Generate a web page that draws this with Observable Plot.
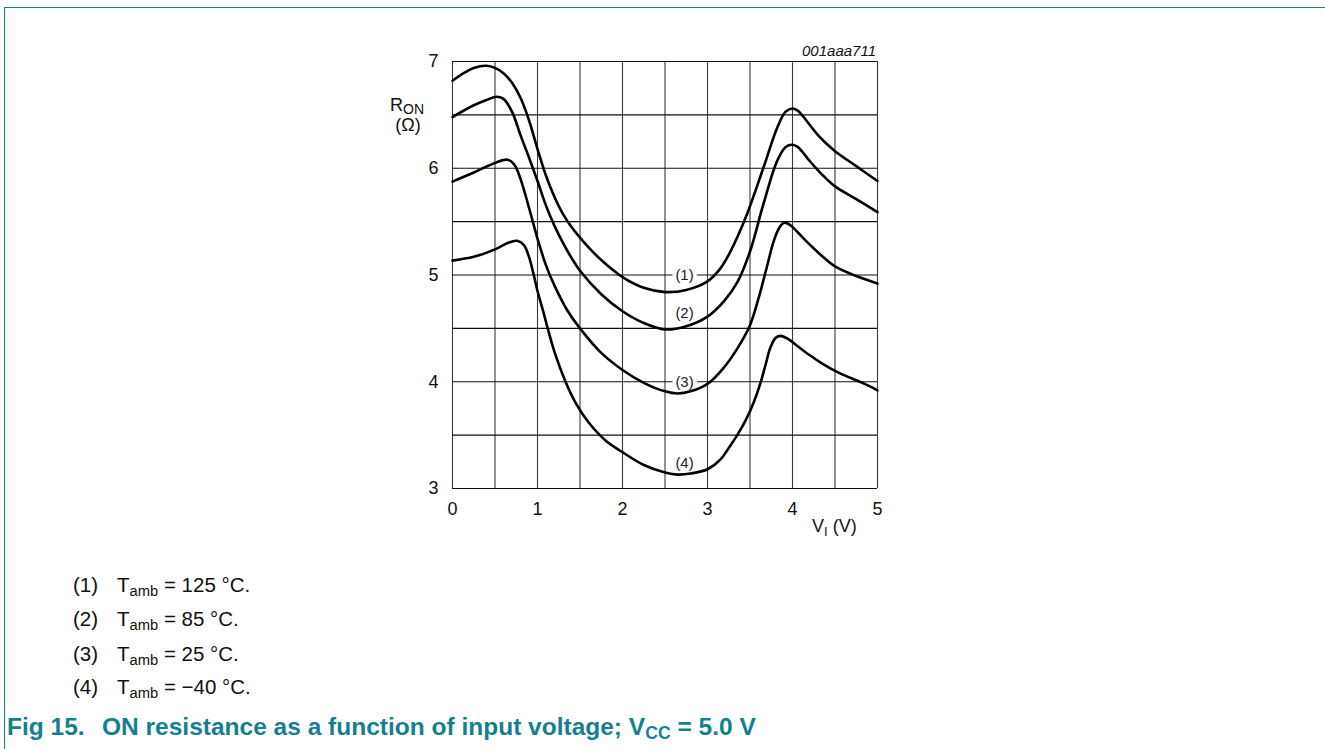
<!DOCTYPE html>
<html>
<head>
<meta charset="utf-8">
<script src="https://cdn.jsdelivr.net/npm/d3@7"></script>
<script src="https://cdn.jsdelivr.net/npm/@observablehq/plot@0.6"></script>
<style>
  html, body { margin: 0; padding: 0; background: #fff; }
  body { width: 1325px; height: 749px; position: relative; overflow: hidden;
         font-family: Arial, "Liberation Sans", sans-serif; }
  #frame { position: absolute; left: 4px; top: 7px; right: 0; bottom: 0;
           border-left: 1.5px solid #14808f; border-top: 1.5px solid #14808f; }
  #chart { position: absolute; left: 0; top: 0; }
  .note { position: absolute; font-size: 20.5px; line-height: 24px; color: #111; white-space: nowrap; }
  .note .num { position: absolute; left: 0; }
  .note .txt { position: absolute; left: 44px; }
  sub { font-size: 0.72em; vertical-align: -0.25em; line-height: 0; }
  #title { position: absolute; left: 7px; top: 713px; font-size: 24.5px; line-height: 28px; font-weight: bold;
           color: #14808f; white-space: nowrap; }
  #title .on { position: absolute; left: 95px; }
</style>
</head>
<body>
<div id="frame"></div>
<div id="chart"></div>
<div class="note" style="left:73px; top:573px;"><span class="num">(1)</span><span class="txt">T<sub>amb</sub> = 125 °C.</span></div>
<div class="note" style="left:73px; top:607px;"><span class="num">(2)</span><span class="txt">T<sub>amb</sub> = 85 °C.</span></div>
<div class="note" style="left:73px; top:642px;"><span class="num">(3)</span><span class="txt">T<sub>amb</sub> = 25 °C.</span></div>
<div class="note" style="left:73px; top:675px;"><span class="num">(4)</span><span class="txt">T<sub>amb</sub> = −40 °C.</span></div>
<div id="title"><span>Fig 15.</span><span class="on">ON resistance as a function of input voltage; V<sub>CC</sub> = 5.0 V</span></div>
<script>
// ---- data ----
const xTicks = [0, 1, 2, 3, 4, 5];
const yTicks = [3, 4, 5, 6, 7];
const xGrid = [0, 0.5, 1, 1.5, 2, 2.5, 3, 3.5, 4, 4.5, 5];
const yGrid = [3, 3.5, 4, 4.5, 5, 5.5, 6, 6.5, 7];

// (1) Tamb = 125 °C
const curve1V = [0, 0.15, 0.25, 0.4, 0.5, 0.6, 0.7, 0.8, 0.9, 1.0, 1.1, 1.2, 1.3, 1.4, 1.5, 1.6, 1.75, 2.0, 2.25, 2.5, 2.75, 3.0, 3.15, 3.27, 3.45, 3.66, 3.82, 3.92, 4.0, 4.06, 4.12, 4.2, 4.3, 4.4, 4.5, 4.75, 5.0];
const curve1R = [6.82, 6.9, 6.94, 6.96, 6.94, 6.89, 6.8, 6.66, 6.45, 6.18, 5.93, 5.73, 5.57, 5.45, 5.35, 5.26, 5.14, 4.98, 4.88, 4.84, 4.86, 4.94, 5.06, 5.22, 5.54, 6.01, 6.38, 6.53, 6.56, 6.54, 6.49, 6.41, 6.31, 6.23, 6.16, 6.02, 5.88];
// (2) Tamb = 85 °C
const curve2V = [0, 0.25, 0.4, 0.52, 0.6, 0.7, 0.8, 0.9, 1.0, 1.1, 1.2, 1.3, 1.4, 1.5, 1.75, 2.0, 2.25, 2.5, 2.75, 3.0, 3.2, 3.35, 3.5, 3.66, 3.82, 3.92, 4.0, 4.06, 4.12, 4.2, 4.3, 4.4, 4.5, 4.75, 5.0];
const curve2R = [6.48, 6.59, 6.64, 6.67, 6.65, 6.53, 6.31, 6.1, 5.88, 5.65, 5.46, 5.3, 5.16, 5.04, 4.82, 4.66, 4.55, 4.49, 4.52, 4.61, 4.76, 4.93, 5.22, 5.67, 6.07, 6.2, 6.22, 6.2, 6.15, 6.07, 5.98, 5.9, 5.83, 5.71, 5.59];
// (3) Tamb = 25 °C
const curve3V = [0, 0.25, 0.5, 0.65, 0.73, 0.8, 0.9, 1.0, 1.1, 1.2, 1.35, 1.5, 1.75, 2.0, 2.25, 2.5, 2.65, 2.8, 3.0, 3.2, 3.35, 3.5, 3.6, 3.7, 3.78, 3.85, 3.9, 3.97, 4.05, 4.17, 4.33, 4.5, 4.75, 5.0];
const curve3R = [5.875, 5.96, 6.05, 6.08, 6.03, 5.9, 5.63, 5.34, 5.09, 4.9, 4.67, 4.5, 4.27, 4.11, 3.99, 3.91, 3.89, 3.91, 3.98, 4.14, 4.31, 4.53, 4.78, 5.08, 5.32, 5.45, 5.49, 5.47, 5.41, 5.31, 5.19, 5.08, 4.99, 4.92];
// (4) Tamb = −40 °C
const curve4V = [0, 0.25, 0.5, 0.65, 0.76, 0.84, 0.9, 0.95, 1.0, 1.06, 1.12, 1.2, 1.33, 1.45, 1.6, 1.8, 2.0, 2.25, 2.5, 2.65, 2.8, 3.0, 3.15, 3.25, 3.35, 3.45, 3.55, 3.62, 3.68, 3.74, 3.8, 3.86, 3.95, 4.05, 4.2, 4.35, 4.53, 4.7, 4.85, 5.0];
const curve4R = [5.135, 5.17, 5.24, 5.3, 5.32, 5.28, 5.17, 5.02, 4.85, 4.68, 4.5, 4.28, 4.0, 3.8, 3.62, 3.45, 3.34, 3.22, 3.15, 3.13, 3.14, 3.18, 3.27, 3.38, 3.5, 3.64, 3.82, 3.98, 4.15, 4.32, 4.41, 4.43, 4.4, 4.34, 4.25, 4.17, 4.09, 4.03, 3.98, 3.92];

const labelText = ["(1)", "(2)", "(3)", "(4)"];
const labelV = [2.73, 2.73, 2.73, 2.73];
const labelR = [5.0, 4.64, 4.0, 3.24];

// ---- build tables ----
const series = [
  {name: "(1)", V: curve1V, R: curve1R},
  {name: "(2)", V: curve2V, R: curve2R},
  {name: "(3)", V: curve3V, R: curve3R},
  {name: "(4)", V: curve4V, R: curve4R}
];
const points = series.flatMap(s => s.V.map((v, i) => ({series: s.name, V: v, R: s.R[i]})));
const labels = labelText.map((t, i) => ({text: t, V: labelV[i], R: labelR[i]}));

const chart = Plot.plot({
  width: 1325,
  height: 560,
  marginLeft: 452,
  marginRight: 448,
  marginTop: 61,
  marginBottom: 72,
  style: {fontFamily: 'Arial, "Liberation Sans", sans-serif', color: "#111", background: "transparent"},
  x: {domain: [0, 5]},
  y: {domain: [3, 7]},
  marks: [
    Plot.ruleX(xGrid, {stroke: "#3a3a3a", strokeWidth: 1.1}),
    Plot.ruleY(yGrid, {stroke: "#111", strokeWidth: 1.1}),
    Plot.text(labels, {x: "V", y: "R", text: "text", fontSize: 15, fill: "#222",
                       stroke: "white", strokeWidth: 8}),
    Plot.line(points, {x: "V", y: "R", z: "series", curve: "catmull-rom",
                       stroke: "#000", strokeWidth: 2.6}),
    Plot.axisX({ticks: xTicks, tickFormat: d => String(d), tickSize: 0, tickPadding: 14, fontSize: 18, label: null}),
    Plot.axisY({ticks: yTicks, tickFormat: d => String(d), tickSize: 0, tickPadding: 14, fontSize: 18, label: null})
  ]
});
document.getElementById("chart").appendChild(chart);

// axis titles and figure id
const svg = d3.select(chart);
const yt = svg.append("text").attr("x", 390).attr("y", 111).attr("font-size", 18)
   .attr("text-anchor", "start").attr("fill", "#111");
yt.append("tspan").text("R");
yt.append("tspan").attr("font-size", 14).attr("dy", 3).text("ON");
svg.append("text").attr("x", 408).attr("y", 131).attr("font-size", 18).attr("fill", "#111")
   .attr("text-anchor", "middle").text("(Ω)");
const xt = svg.append("text").attr("x", 812).attr("y", 532).attr("font-size", 18)
   .attr("text-anchor", "start").attr("fill", "#111");
xt.append("tspan").text("V");
xt.append("tspan").attr("font-size", 13).attr("dy", 4).text("I");
xt.append("tspan").attr("dy", -4).text(" (V)");
svg.append("text").attr("x", 876).attr("y", 56).attr("font-size", 15).attr("font-style", "italic")
   .attr("text-anchor", "end").attr("fill", "#111").text("001aaa711");
</script>
</body>
</html>
